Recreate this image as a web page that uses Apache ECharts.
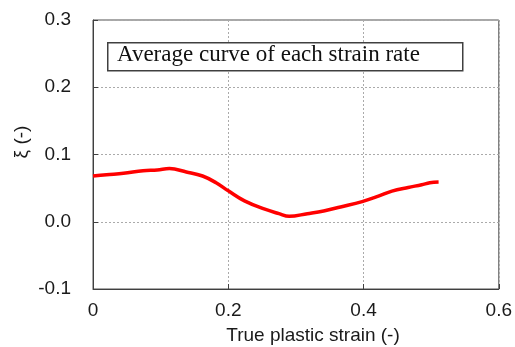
<!DOCTYPE html>
<html>
<head>
<meta charset="utf-8">
<script src="https://cdn.jsdelivr.net/npm/echarts@6/dist/echarts.min.js"></script>
<style>html,body{margin:0;padding:0;background:#fff}#c{width:515px;height:347px}</style>
</head>
<body>
<div id="c"></div>
<script>
const strainX = [0, 0.02, 0.045, 0.074, 0.095, 0.113, 0.138, 0.162, 0.182, 0.2, 0.224, 0.253, 0.275, 0.29, 0.317, 0.341, 0.366, 0.398, 0.422, 0.442, 0.466, 0.486, 0.498, 0.511];
const xiY = [0.068, 0.070, 0.072, 0.076, 0.077, 0.079, 0.074, 0.068, 0.058, 0.046, 0.031, 0.019, 0.012, 0.008, 0.012, 0.016, 0.022, 0.030, 0.038, 0.0455, 0.051, 0.055, 0.058, 0.059];
const xTickLabels = {0: '0', 0.2: '0.2', 0.4: '0.4', 0.6: '0.6'};
const seriesName = 'Average curve of each strain rate';
const xName = 'True plastic strain (-)';
const yName = 'ξ (-)';

const chart = echarts.init(document.getElementById('c'), null, {renderer: 'canvas'});
const axisText = {color: '#1a1a1a', fontFamily: 'Liberation Sans, Arial, sans-serif', fontSize: 19};
chart.setOption({
  animation: false,
  backgroundColor: '#fff',
  grid: {left: 93, right: 14, top: 20, bottom: 58, show: true, borderColor: '#505050', borderWidth: 1},
  xAxis: {
    type: 'value', min: 0, max: 0.6, interval: 0.2,
    axisLine: {show: true, onZero: false, lineStyle: {color: '#404040', width: 1}},
    axisTick: {show: true, inside: true, length: 5, lineStyle: {color: '#404040'}},
    axisLabel: Object.assign({margin: 12, formatter: v => xTickLabels[Math.round(v * 10) / 10] ?? v}, axisText),
    splitLine: {show: true, lineStyle: {color: '#aaaaaa', type: [2, 2], width: 1}}
  },
  yAxis: {
    type: 'value', min: -0.1, max: 0.3, interval: 0.1,
    axisLine: {show: true, onZero: false, lineStyle: {color: '#404040', width: 1}},
    axisTick: {show: true, inside: true, length: 5, lineStyle: {color: '#404040'}},
    axisLabel: Object.assign({margin: 22, formatter: v => v.toFixed(1)}, axisText),
    splitLine: {show: true, lineStyle: {color: '#aaaaaa', type: [2, 2], width: 1}}
  },
  graphic: [
    {type: 'rect', left: 107, top: 42, shape: {width: 355, height: 28}, style: {fill: '#fff', stroke: '#404040', lineWidth: 1.5}, z: 10},
    {type: 'text', left: 117, top: 43, style: {text: seriesName, font: '23px "Liberation Serif", "Times New Roman", serif', fill: '#111'}, z: 11},
    {type: 'text', x: 313, y: 336, style: {text: xName, font: '19px "Liberation Sans", Arial, sans-serif', fill: '#1a1a1a', align: 'center', verticalAlign: 'middle'}},
    {type: 'text', x: 22, y: 142, rotation: Math.PI / 2, style: {text: yName, font: '19px "Liberation Sans", Arial, sans-serif', fill: '#1a1a1a', align: 'center', verticalAlign: 'middle'}}
  ],
  series: [{
    type: 'line', name: seriesName,
    data: strainX.map((x, i) => [x, xiY[i]]),
    smooth: 0.4, showSymbol: false,
    lineStyle: {color: '#ff0000', width: 3.5}
  }]
});
</script>
</body>
</html>
